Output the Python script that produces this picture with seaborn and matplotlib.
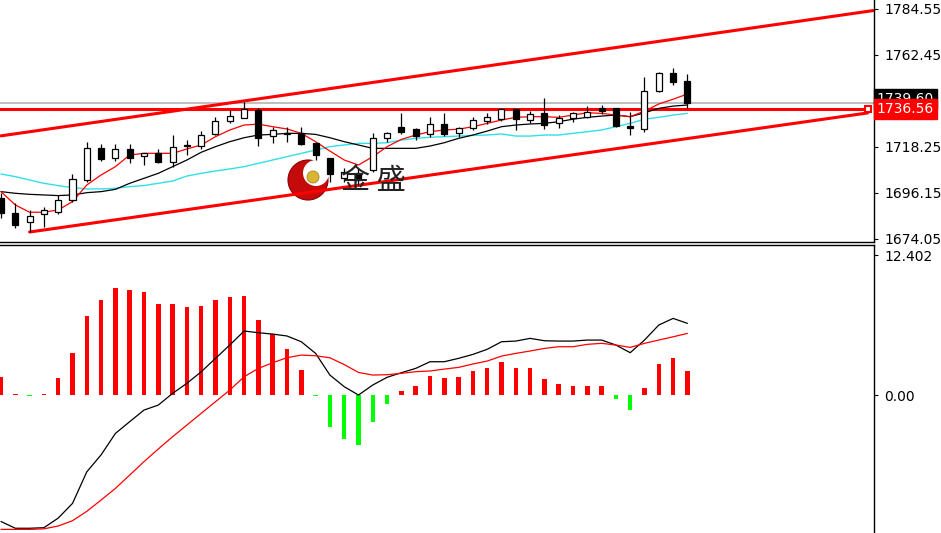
import numpy as np
import pandas as pd
import matplotlib
matplotlib.use('Agg')
import matplotlib.pyplot as plt
import matplotlib.transforms as mtransforms
from matplotlib.patches import Circle
import seaborn as sns

# свечи (цена золота)
opens = [1693.7, 1686.5, 1682.2, 1686.1, 1687.0, 1692.8, 1702.4, 1717.8, 1713.0, 1717.3,
         1713.9, 1715.4, 1711.0, 1718.7, 1718.7, 1724.5, 1730.7, 1732.2, 1736.0, 1723.5,
         1724.5, 1725.0, 1720.2, 1713.0, 1703.4, 1705.8, 1707.2, 1722.6, 1727.9, 1726.9,
         1724.5, 1729.3, 1725.0, 1727.4, 1730.7, 1731.7, 1736.5, 1731.2, 1734.6, 1729.8,
         1732.2, 1732.7, 1737.0, 1737.0, 1728.3, 1726.9, 1745.2, 1753.8, 1750.0]
highs = [1696.2, 1691.3, 1688.0, 1689.4, 1695.2, 1705.3, 1720.7, 1719.7, 1719.7, 1719.7,
         1715.4, 1717.3, 1724.0, 1721.6, 1725.9, 1732.7, 1736.0, 1739.9, 1737.0, 1727.9,
         1727.9, 1727.9, 1720.2, 1713.0, 1708.2, 1708.2, 1725.0, 1725.5, 1734.6, 1727.4,
         1732.7, 1734.6, 1727.9, 1732.7, 1734.6, 1737.0, 1736.5, 1735.5, 1741.8, 1733.6,
         1735.1, 1738.0, 1738.4, 1737.0, 1735.1, 1751.9, 1754.2, 1756.2, 1753.3]
lows = [1684.1, 1679.3, 1677.4, 1679.8, 1686.1, 1691.8, 1701.4, 1711.5, 1711.5, 1710.6,
        1709.6, 1710.6, 1708.6, 1714.4, 1717.3, 1724.0, 1729.8, 1732.2, 1718.7, 1720.2,
        1720.7, 1719.2, 1712.0, 1701.4, 1701.4, 1700.0, 1706.2, 1720.7, 1724.5, 1721.6,
        1723.1, 1723.5, 1723.1, 1726.4, 1729.3, 1730.7, 1726.4, 1729.8, 1726.9, 1727.4,
        1730.3, 1732.2, 1734.1, 1727.9, 1724.0, 1725.5, 1744.7, 1748.0, 1737.0]
closes = [1686.5, 1680.8, 1685.1, 1688.0, 1692.8, 1702.9, 1717.8, 1712.5, 1717.3, 1713.0,
          1715.4, 1711.0, 1718.3, 1719.2, 1724.0, 1730.7, 1733.1, 1736.5, 1722.6, 1726.4,
          1725.0, 1719.7, 1714.4, 1705.3, 1706.2, 1702.4, 1722.6, 1725.0, 1725.5, 1723.5,
          1729.3, 1724.5, 1727.4, 1731.2, 1732.7, 1736.5, 1731.7, 1734.1, 1728.8, 1732.2,
          1734.6, 1735.1, 1735.5, 1728.3, 1727.4, 1745.2, 1753.8, 1749.5, 1739.6]

# скользящие средние
ma_fast = [1696.8, 1690.4, 1686.9, 1686.9, 1688.0, 1692.0, 1700.0, 1704.8, 1708.8, 1714.4,
           1715.2, 1715.2, 1715.2, 1717.3, 1719.2, 1723.2, 1726.4, 1728.8, 1729.2, 1728.0,
           1726.9, 1724.8, 1720.8, 1716.3, 1712.0, 1709.6, 1713.6, 1718.4, 1721.9, 1724.0,
           1725.6, 1726.4, 1726.8, 1728.0, 1729.6, 1731.2, 1732.5, 1732.8, 1732.8, 1732.5,
           1733.6, 1734.7, 1734.4, 1733.6, 1732.8, 1735.5, 1738.9, 1741.2, 1743.7]
ma_mid = [1696.8, 1696.0, 1695.5, 1695.2, 1694.9, 1695.2, 1696.3, 1696.8, 1697.9, 1700.8,
          1703.2, 1705.6, 1708.8, 1712.0, 1715.7, 1718.4, 1720.8, 1722.7, 1724.0, 1724.3,
          1724.8, 1724.8, 1724.3, 1722.7, 1720.8, 1719.2, 1717.6, 1717.6, 1717.6, 1717.6,
          1718.7, 1720.3, 1722.4, 1724.0, 1725.9, 1728.0, 1728.8, 1729.3, 1729.6, 1730.4,
          1731.6, 1732.5, 1733.1, 1733.6, 1732.8, 1734.7, 1736.8, 1737.9, 1738.4]
ma_slow = [1705.3, 1704.0, 1702.4, 1700.8, 1699.7, 1698.7, 1698.1, 1698.1, 1698.4, 1699.2,
           1699.7, 1700.8, 1701.9, 1704.3, 1705.6, 1706.7, 1707.7, 1708.8, 1710.4, 1712.0,
           1713.6, 1715.2, 1716.8, 1718.4, 1719.2, 1720.0, 1720.0, 1720.3, 1721.6, 1722.4,
           1722.9, 1723.2, 1723.5, 1723.8, 1724.0, 1724.5, 1723.5, 1723.5, 1724.0, 1724.0,
           1724.8, 1725.6, 1726.4, 1728.0, 1729.6, 1731.6, 1732.5, 1733.6, 1734.4]

# MACD
macd_hist = [1.62, 0.12, -0.1, 0.12, 1.48, 3.69, 7.02, 8.41, 9.50, 9.27,
             9.15, 8.06, 8.06, 7.79, 7.91, 8.41, 8.65, 8.77, 6.64, 5.37,
             4.07, 2.21, -0.1, -2.81, -3.93, -4.43, -2.42, -0.82, 0.38, 0.82,
             1.71, 1.48, 1.62, 2.13, 2.36, 2.95, 2.36, 2.36, 1.39, 0.97,
             0.82, 0.82, 0.82, -0.35, -1.33, 0.65, 2.75, 3.31, 2.13]
macd_line = [-11.2, -11.8, -11.8, -11.75, -10.9, -9.6, -6.8, -5.3, -3.4, -2.36,
             -1.33, -0.89, 0.15, 1.04, 2.06, 3.25, 4.43, 5.67, 5.52, 5.40,
             5.23, 4.72, 3.69, 1.77, 0.74, 0.0, 0.89, 1.57, 1.98, 2.36,
             2.95, 2.95, 3.25, 3.6, 4.05, 4.72, 4.78, 5.02, 4.81, 4.78,
             4.78, 4.87, 4.87, 4.43, 3.75, 4.87, 6.2, 6.79, 6.35]
macd_signal = [-11.9, -11.9, -11.9, -11.85, -11.6, -11.13, -10.3, -9.3, -8.27, -7.09,
               -5.9, -4.78, -3.69, -2.66, -1.62, -0.59, 0.44, 1.62, 2.36, 2.86,
               3.31, 3.54, 3.48, 3.3, 2.7, 2.0, 1.77, 1.8, 1.92, 2.07,
               2.13, 2.3, 2.45, 2.75, 3.01, 3.45, 3.69, 3.9, 4.13, 4.28,
               4.28, 4.49, 4.58, 4.43, 4.22, 4.58, 4.87, 5.16, 5.46]

# трендовый канал и уровни
chan_upper_x = [0, 61]
chan_upper_y = [1723.6, 1783.8]
chan_lower_x = [2, 60.6]
chan_lower_y = [1677.4, 1734.6]
level_price = 1736.56
bid_price = 1739.6

price_ticks = [1784.55, 1762.45, 1718.25, 1696.15, 1674.05]
price_labels = ['1784.55', '1762.45', '1718.25', '1696.15', '1674.05']
macd_ticks = [12.402, 0.0]
macd_labels = ['12.402', '0.00']

sns.set_theme(style='white')
plt.rcParams['font.family'] = ['DejaVu Sans']

W, H = 941, 533
fig = plt.figure(figsize=(W / 100, H / 100), dpi=100)
fig.patch.set_facecolor('white')
ax1 = fig.add_axes([0, (H - 242) / H, 874 / W, 242 / H])
ax2 = fig.add_axes([0, 0, 874 / W, 288 / H])

df = pd.DataFrame({'x': np.arange(len(opens)), 'open': opens, 'high': highs,
                   'low': lows, 'close': closes, 'ma_fast': ma_fast,
                   'ma_mid': ma_mid, 'ma_slow': ma_slow, 'hist': macd_hist,
                   'macd': macd_line, 'signal': macd_signal})

x_min, x_max = -0.07, 61.05

# верхняя панель
ax1.set_facecolor('white')
ax1.axhline(bid_price, color='#c0c0c0', lw=1.5, zorder=1)
ax1.plot([x_min, 60.6], [level_price, level_price], color='red', lw=2.2, zorder=1.2)
ax1.plot(chan_upper_x, chan_upper_y, color='red', lw=2.2, zorder=1.2)
ax1.plot(chan_lower_x, chan_lower_y, color='red', lw=2.2, zorder=1.2)
ax1.plot([60.6], [level_price], marker='s', ms=5, mfc='white', mec='red', mew=1.5,
         zorder=5, clip_on=False)

# логотип
logo_tr = fig.dpi_scale_trans
ax1.add_patch(Circle((3.08, 5.33 - 1.80), 0.20, transform=logo_tr, fc='#c40a0a',
                     ec='#8a0000', lw=0.8, zorder=0.8))
ax1.add_patch(Circle((3.16, 5.33 - 1.73), 0.13, transform=logo_tr, fc='white',
                     ec='none', zorder=0.85))
ax1.add_patch(Circle((3.13, 5.33 - 1.77), 0.06, transform=logo_tr, fc='#d8b632',
                     ec='#a8861a', lw=0.6, zorder=0.9))
fig.text(373 / W, 1 - 181 / H, '金 盛', fontsize=21, color='#222222',
         family=['Noto Sans CJK SC', 'DejaVu Sans'], ha='center', va='center', zorder=0.5)

sns.lineplot(data=df, x='x', y='ma_slow', ax=ax1, color='#30e0e8', lw=1.0, zorder=2)
sns.lineplot(data=df, x='x', y='ma_mid', ax=ax1, color='black', lw=0.9, zorder=2)
sns.lineplot(data=df, x='x', y='ma_fast', ax=ax1, color='red', lw=0.9, zorder=2)

# свечи
up = df['close'] >= df['open']
ax1.vlines(df['x'], df['low'], df['high'], color='black', lw=0.9, zorder=3)
body = (df['close'] - df['open']).abs().clip(lower=0.4)
bottom = df[['open', 'close']].min(axis=1)
ax1.bar(df['x'], body, bottom=bottom, width=0.42,
        color=np.where(up, 'white', 'black'), edgecolor='black', lw=0.9, zorder=4)

ax1.set_xlim(x_min, x_max)
ax1.set_ylim(1672.6, 1788.87)

# нижняя панель MACD
ax2.set_facecolor('white')
ax2.bar(df['x'], df['hist'], width=0.32,
        color=np.where(df['hist'] >= 0, '#ff0000', '#00ff00'), lw=0, zorder=2)
sns.lineplot(data=df, x='x', y='macd', ax=ax2, color='black', lw=0.9, zorder=3)
sns.lineplot(data=df, x='x', y='signal', ax=ax2, color='red', lw=0.9, zorder=3)
ax2.set_xlim(x_min, x_max)
ax2.set_ylim(-12.22, 13.29)

for ax, ticks, labels in [(ax1, price_ticks, price_labels), (ax2, macd_ticks, macd_labels)]:
    ax.set_xlabel('')
    ax.set_ylabel('')
    ax.set_xticks([])
    ax.yaxis.tick_right()
    ax.set_yticks(ticks)
    ax.set_yticklabels(labels)
    ax.tick_params(axis='y', direction='out', length=3, width=0.8, pad=4.5,
                   labelsize=10, colors='black', right=True)
    for s in ax.spines.values():
        s.set_color('black')
        s.set_linewidth(1.0)
    ax.spines['left'].set_visible(False)

ax1.spines['top'].set_visible(False)
ax2.spines['bottom'].set_visible(False)

# метки текущей цены и уровня справа
lab_tr = mtransforms.blended_transform_factory(ax1.transAxes, ax1.transData)
ax1.text(1.003, bid_price + 1.6, f'{bid_price:.2f}', transform=lab_tr, color='white',
         fontsize=10, ha='left', va='center', clip_on=False, zorder=10,
         bbox=dict(boxstyle='square,pad=0.2', fc='black', ec='black'))
ax1.text(1.003, level_price, f'{level_price:.2f}', transform=lab_tr, color='white',
         fontsize=10, ha='left', va='center', clip_on=False, zorder=11,
         bbox=dict(boxstyle='square,pad=0.2', fc='red', ec='red'))

fig.savefig('out.png', dpi=100, facecolor='white')
